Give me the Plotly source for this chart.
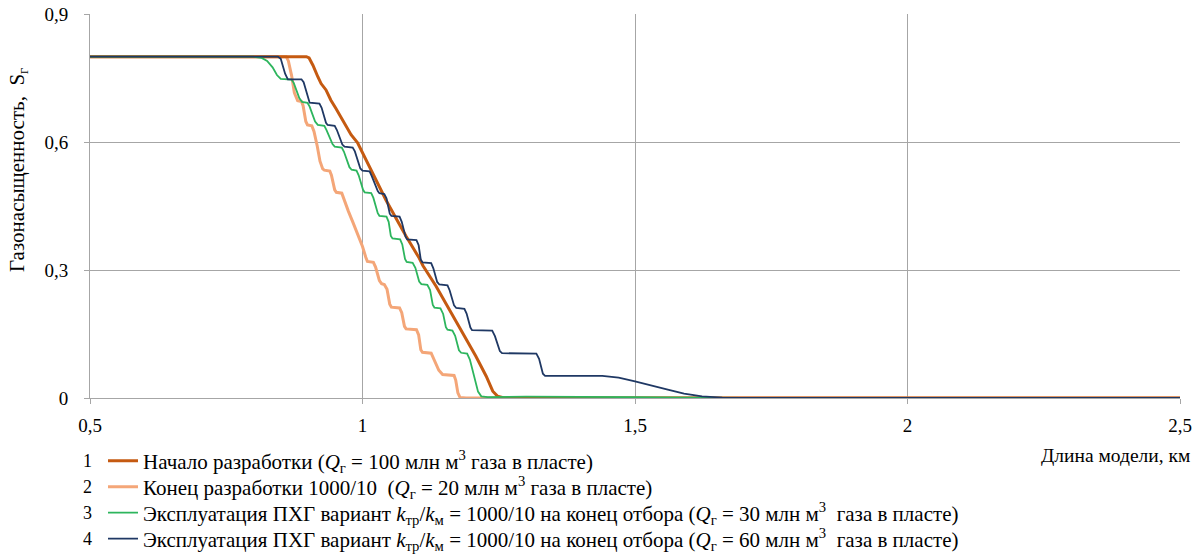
import plotly.graph_objects as go

# ---- data ----
x1 = [0.5, 0.897, 0.902, 0.909, 0.918, 0.924, 0.933, 0.942, 0.951, 0.961, 0.970, 0.979, 0.991, 1.000,
      1.013, 1.028, 1.043, 1.062, 1.080, 1.104, 1.111, 1.135, 1.160, 1.184, 1.208, 1.227, 1.239, 1.248, 1.26, 2.5]
s1 = [0.80, 0.80, 0.797, 0.780, 0.753, 0.737, 0.722, 0.698, 0.679, 0.656, 0.636, 0.617, 0.598, 0.575,
      0.542, 0.503, 0.464, 0.420, 0.379, 0.328, 0.310, 0.262, 0.207, 0.153, 0.098, 0.051, 0.016, 0.004, 0.0, 0.0]

x2 = [0.5, 0.860, 0.864, 0.870, 0.875, 0.879, 0.881, 0.888, 0.891, 0.896, 0.899, 0.907, 0.911, 0.917,
      0.922, 0.927, 0.930, 0.940, 0.943, 0.949, 0.952, 0.962, 0.967, 0.974, 0.983, 0.992, 1.000, 1.006,
      1.009, 1.020, 1.024, 1.031, 1.035, 1.040, 1.045, 1.050, 1.053, 1.068, 1.072, 1.077, 1.080, 1.099,
      1.103, 1.107, 1.110, 1.126, 1.131, 1.140, 1.147, 1.168, 1.171, 1.175, 1.179, 1.19, 2.5]
s2 = [0.80, 0.80, 0.790, 0.755, 0.715, 0.700, 0.697, 0.695, 0.685, 0.648, 0.640, 0.638, 0.625, 0.590,
      0.555, 0.537, 0.534, 0.532, 0.522, 0.488, 0.482, 0.480, 0.462, 0.438, 0.410, 0.383, 0.355, 0.330,
      0.320, 0.318, 0.307, 0.275, 0.268, 0.266, 0.255, 0.220, 0.213, 0.211, 0.200, 0.168, 0.162, 0.160,
      0.148, 0.113, 0.107, 0.105, 0.092, 0.065, 0.055, 0.053, 0.042, 0.012, 0.001, 0.0, 0.0]

x3 = [0.5, 0.800, 0.815, 0.825, 0.835, 0.843, 0.850, 0.870, 0.874, 0.884, 0.889, 0.899, 0.903, 0.913,
      0.918, 0.930, 0.934, 0.945, 0.949, 0.962, 0.966, 0.976, 0.980, 0.989, 0.993, 1.001, 1.004, 1.016,
      1.020, 1.028, 1.031, 1.044, 1.048, 1.052, 1.055, 1.069, 1.073, 1.078, 1.081, 1.092, 1.097, 1.104,
      1.108, 1.119, 1.124, 1.129, 1.132, 1.143, 1.148, 1.153, 1.156, 1.165, 1.170, 1.177, 1.181, 1.192,
      1.197, 1.205, 1.212, 1.218, 1.23, 1.3, 1.4, 1.5, 1.6, 1.7, 2.5]
s3 = [0.80, 0.80, 0.797, 0.790, 0.775, 0.757, 0.748, 0.746, 0.738, 0.703, 0.694, 0.692, 0.683, 0.648,
      0.640, 0.638, 0.628, 0.595, 0.589, 0.587, 0.577, 0.541, 0.535, 0.533, 0.522, 0.488, 0.482, 0.480,
      0.469, 0.433, 0.427, 0.425, 0.413, 0.380, 0.374, 0.372, 0.360, 0.326, 0.319, 0.317, 0.305, 0.273,
      0.267, 0.265, 0.253, 0.218, 0.212, 0.210, 0.197, 0.166, 0.160, 0.158, 0.146, 0.112, 0.106, 0.104,
      0.090, 0.050, 0.015, 0.004, 0.002, 0.003, 0.003, 0.002, 0.001, 0.0, 0.0]

x4 = [0.5, 0.845, 0.850, 0.858, 0.863, 0.888, 0.892, 0.900, 0.903, 0.921, 0.925, 0.933, 0.936, 0.949,
      0.953, 0.963, 0.967, 0.982, 0.986, 0.996, 1.000, 1.013, 1.017, 1.028, 1.031, 1.040, 1.044, 1.050,
      1.053, 1.068, 1.072, 1.079, 1.082, 1.099, 1.103, 1.107, 1.110, 1.126, 1.130, 1.137, 1.141, 1.156,
      1.160, 1.168, 1.172, 1.187, 1.191, 1.198, 1.201, 1.238, 1.243, 1.252, 1.256, 1.319, 1.324, 1.331,
      1.335, 1.44, 1.47, 1.50, 1.53, 1.562, 1.59, 1.623, 1.66, 1.70, 2.5]
s4 = [0.80, 0.80, 0.795, 0.760, 0.747, 0.747, 0.740, 0.700, 0.692, 0.690, 0.680, 0.645, 0.640, 0.638,
      0.628, 0.594, 0.589, 0.587, 0.578, 0.538, 0.533, 0.531, 0.520, 0.485, 0.480, 0.478, 0.468, 0.432,
      0.427, 0.425, 0.413, 0.378, 0.372, 0.370, 0.358, 0.324, 0.318, 0.316, 0.304, 0.272, 0.266, 0.264,
      0.252, 0.217, 0.211, 0.209, 0.198, 0.165, 0.159, 0.158, 0.145, 0.110, 0.105, 0.104, 0.092, 0.057,
      0.052, 0.052, 0.048, 0.039, 0.030, 0.019, 0.010, 0.004, 0.001, 0.0, 0.0]

names = [
    "Начало разработки (<i>Q</i><sub>г</sub> = 100 млн м<sup>3</sup> газа в пласте)",
    "Конец разработки 1000/10  (<i>Q</i><sub>г</sub> = 20 млн м<sup>3</sup> газа в пласте)",
    "Эксплуатация ПХГ вариант <i>k</i><sub>тр</sub>/<i>k</i><sub>м</sub> = 1000/10 на конец отбора (<i>Q</i><sub>г</sub> = 30 млн м<sup>3</sup>  газа в пласте)",
    "Эксплуатация ПХГ вариант <i>k</i><sub>тр</sub>/<i>k</i><sub>м</sub> = 1000/10 на конец отбора (<i>Q</i><sub>г</sub> = 60 млн м<sup>3</sup>  газа в пласте)",
]
numbers = ["1", "2", "3", "4"]
x_ticks = [0.5, 1, 1.5, 2, 2.5]
x_ticktext = ["0,5", "1", "1,5", "2", "2,5"]
y_ticks = [0, 0.3, 0.6, 0.9]
y_ticktext = ["0", "0,3", "0,6", "0,9"]

colors = ["#C55A11", "#F4A678", "#2DB55D", "#1F3864"]
widths = [3, 3, 1.8, 1.8]

FONT = "Liberation Serif"
FS_LEG = 21
FS_TICK = 19
FS_YT = 21
FS_XT = 19.5

W, H = 1197, 554
ml, mr, mt, mb = 90, 17, 14, 156
pw, ph = W - ml - mr, H - mt - mb


def px_x(p):
    return (p - ml) / pw


def px_y(p):
    return (H - mb - p) / ph


row_y = [461, 487, 513, 539]
legend_ids = ["legend", "legend2", "legend3", "legend4"]

fig = go.Figure()
series = [(x1, s1), (x2, s2), (x3, s3), (x4, s4)]
for i in [1, 0, 2, 3]:
    xs, ys = series[i]
    fig.add_trace(go.Scatter(x=xs, y=ys, mode="lines", name=names[i],
                             line=dict(color=colors[i], width=widths[i]),
                             legend=legend_ids[i]))

annotations = []
for n, ry in zip(numbers, row_y):
    annotations.append(dict(text=n, x=px_x(94), y=px_y(ry), xref="paper", yref="paper",
                            xanchor="right", yanchor="middle", showarrow=False,
                            font=dict(family=FONT, size=18, color="#000")))
annotations.append(dict(text="Длина модели, км", x=px_x(1192), y=px_y(455), xref="paper", yref="paper",
                        xanchor="right", yanchor="middle", showarrow=False,
                        font=dict(family=FONT, size=FS_XT, color="#000")))
annotations.append(dict(text="Газонасыщенность,  S<sub>г</sub>", x=px_x(18), y=px_y(170),
                        xref="paper", yref="paper", xanchor="center", yanchor="middle",
                        textangle=-90, showarrow=False,
                        font=dict(family=FONT, size=FS_YT, color="#000")))

legend_layout = {}
for lid, ry in zip(legend_ids, row_y):
    legend_layout[lid] = dict(x=px_x(103), y=px_y(ry), xanchor="left", yanchor="middle",
                              font=dict(family=FONT, size=FS_LEG, color="#000"),
                              bgcolor="rgba(0,0,0,0)", itemwidth=30)

fig.update_layout(
    width=W, height=H,
    margin=dict(l=ml, r=mr, t=mt, b=mb, autoexpand=False),
    paper_bgcolor="white", plot_bgcolor="white",
    font=dict(family=FONT, size=FS_TICK, color="#000"),
    showlegend=True,
    annotations=annotations,
    xaxis=dict(range=[0.5, 2.5], tickvals=x_ticks, ticktext=x_ticktext,
               showgrid=True, gridcolor="#A6A6A6", gridwidth=1,
               showline=True, linecolor="#A6A6A6", linewidth=1,
               ticks="outside", ticklen=5, tickcolor="#A6A6A6",
               ticklabelstandoff=5, zeroline=False,
               tickfont=dict(family=FONT, size=FS_TICK, color="#000")),
    yaxis=dict(range=[0, 0.9], tickvals=y_ticks, ticktext=y_ticktext,
               showgrid=True, gridcolor="#A6A6A6", gridwidth=1,
               showline=True, linecolor="#A6A6A6", linewidth=1,
               ticks="outside", ticklen=5, tickcolor="#A6A6A6",
               ticklabelstandoff=12, zeroline=False,
               tickfont=dict(family=FONT, size=FS_TICK, color="#000")),
    **legend_layout,
)

fig.write_html("out.html")
